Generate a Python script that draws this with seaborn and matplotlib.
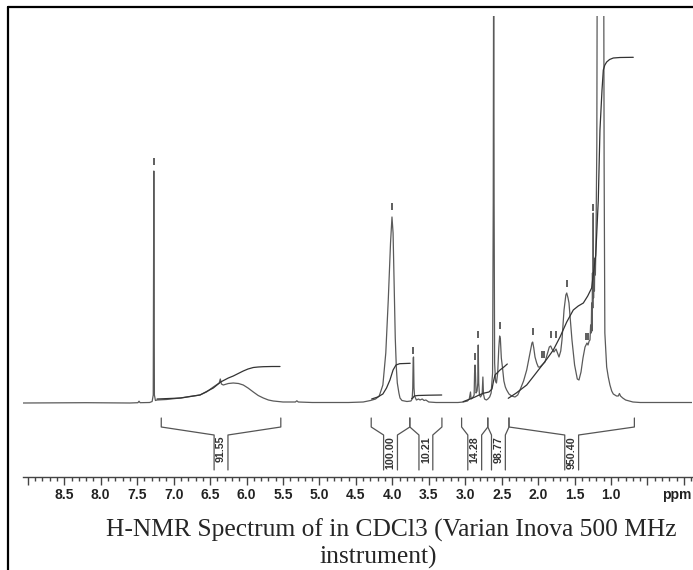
import matplotlib
matplotlib.use("Agg")
import numpy as np
import pandas as pd
import seaborn as sns
import matplotlib.pyplot as plt
from matplotlib.lines import Line2D
from matplotlib.ticker import MultipleLocator

# spectrum trace: chemical shift (ppm) and height (arbitrary units)
spec_ppm = [9.07, 8.20, 7.60, 7.49, 7.475, 7.46, 7.33, 7.295, 7.280, 7.272, 7.264, 7.25, 7.228,
            7.10, 6.91, 6.78, 6.639, 6.55, 6.456, 6.375, 6.360, 6.345, 6.319, 6.25, 6.182, 6.11,
            6.045, 5.98, 5.907, 5.84, 5.770, 5.70, 5.633, 5.50, 5.33, 5.31, 5.29, 5.10, 4.60,
            4.40, 4.30, 4.23, 4.18, 4.13, 4.09, 4.056, 4.025, 4.005, 3.990, 3.975, 3.960, 3.945,
            3.932, 3.910, 3.895, 3.868, 3.80, 3.745, 3.728, 3.720, 3.714, 3.709, 3.703, 3.695,
            3.683, 3.670, 3.64, 3.62, 3.59, 3.565, 3.54, 3.50, 3.40, 3.10, 3.03, 2.97, 2.945,
            2.935, 2.928, 2.920, 2.900, 2.878, 2.872, 2.866, 2.860, 2.852, 2.838, 2.828, 2.822,
            2.815, 2.805, 2.790, 2.768, 2.758, 2.750, 2.735, 2.71, 2.69, 2.665, 2.645, 2.625,
            2.616, 2.610, 2.604, 2.597, 2.585, 2.572, 2.555, 2.540, 2.528, 2.518, 2.505, 2.490,
            2.470, 2.450, 2.432, 2.40, 2.363, 2.318, 2.28, 2.249, 2.20, 2.157, 2.112, 2.085,
            2.075, 2.060, 2.043, 2.020, 1.998, 1.975, 1.947, 1.906, 1.878, 1.847, 1.828, 1.81,
            1.783, 1.765, 1.755, 1.735, 1.714, 1.690, 1.673, 1.645, 1.620, 1.608, 1.590, 1.577,
            1.555, 1.536, 1.500, 1.463, 1.440, 1.412, 1.385, 1.357, 1.330, 1.316, 1.300, 1.289,
            1.280, 1.272, 1.266, 1.260, 1.255, 1.250, 1.245, 1.240, 1.235, 1.228, 1.222, 1.215,
            1.207, 1.195, 1.185, 1.105, 1.095, 1.085, 1.060, 1.038, 1.015, 0.991, 0.969, 0.946,
            0.925, 0.900, 0.885, 0.870, 0.840, 0.80, 0.75, 0.70, 0.60, -0.11]
spec_int = [0, 0.3, 0, 0.3, 1.8, 0.3, 0.5, 1.5, 8, 232, 8, 2.5, 3,
            3.5, 5, 6.5, 8, 11, 16, 20, 24, 19, 18, 19.5, 20, 19.5,
            18, 15, 11, 7.5, 5, 3, 2, 1, 1, 2.2, 1, 0.5, 0.5,
            1, 2.5, 4, 7, 18, 50, 103, 160, 186, 170, 120, 65, 35,
            20, 10, 5, 2.5, 1.5, 2, 4, 15, 45, 46, 15, 7,
            5, 3, 4, 3, 4, 2.5, 3, 1, 0.5, 0.5, 1, 2, 4,
            8, 11, 4, 5, 8, 30, 38, 30, 10, 12, 20, 58,
            20, 8, 6, 9, 26, 9, 4, 3, 4, 6, 10, 30,
            200, 480, 200, 40, 22, 20, 30, 55, 67, 64, 45, 36,
            22, 16, 13, 9, 7, 6, 8, 13, 22, 33, 50, 60,
            61, 55, 46, 40, 36, 36, 38, 41, 48, 56, 57, 54,
            51, 53, 54, 50, 46, 52, 63, 93, 108, 110, 105, 100,
            80, 63, 38, 24, 23, 31, 45, 56, 60, 58, 62, 63,
            78, 70, 100, 72, 130, 95, 190, 105, 140, 112, 145, 128,
            160, 260, 600, 600, 240, 70, 36, 26, 18, 12, 9, 8,
            7, 7, 9.5, 7, 5, 3, 2, 1, 0.5, 0.5]

# integral curves
int_a_ppm = [7.228, 6.90, 6.639, 6.456, 6.355, 6.25, 6.182, 6.10, 6.045, 5.98, 5.907, 5.84, 5.77, 5.65, 5.541]
int_a_h = [4, 5, 8, 15, 21, 25, 27, 30, 32, 34, 35.5, 36, 36.3, 36.5, 36.5]
int_b_ppm = [4.284, 4.20, 4.13, 4.08, 4.033, 3.99, 3.95, 3.90, 3.755]
int_b_h = [4, 6, 9, 15, 23, 33, 38, 39.3, 39.7]
int_c_ppm = [3.735, 3.718, 3.70, 3.65, 3.50, 3.323]
int_c_h = [4.5, 5, 7, 7.5, 7.8, 8]
int_d_ppm = [3.03, 2.935, 2.866, 2.81, 2.753, 2.675, 2.633, 2.612, 2.592, 2.55, 2.523, 2.47, 2.423]
int_d_h = [1.3, 4, 6, 8, 9.7, 11, 14, 22, 28, 31, 33, 36, 39]
int_e_ppm = [2.41, 2.30, 2.157, 2.06, 1.975, 1.88, 1.792, 1.70, 1.608, 1.518, 1.45, 1.38, 1.32,
             1.266, 1.248, 1.21, 1.175, 1.152, 1.124, 1.106, 1.085, 1.06, 1.02, 0.969, 0.877, 0.695]
int_e_h = [4.7, 10, 18, 27, 35, 44, 53, 66, 81, 93, 97, 100, 107,
           115, 126, 148, 203, 273, 313, 333, 338, 341, 343.5, 345, 345.5, 345.7]

# peak-pick markers (position, height of the mark's foot)
mark_ppm = [7.272, 4.005, 3.711, 2.866, 2.822, 2.528, 2.075, 1.950, 1.915, 1.824, 1.760, 1.608, 1.343, 1.315, 1.245]
mark_h = [238, 193, 49, 43, 65, 74, 68, 45, 45, 65, 65, 116, 63, 63, 192]

# integration regions
reg_left = [7.17, 4.29, 3.76, 3.05, 2.69, 2.40]
reg_right = [5.53, 3.76, 3.32, 2.69, 2.40, 0.68]
reg_label = ["91.55", "100.00", "10.21", "14.28", "98.77", "950.40"]

tick_pos = [9.0, 8.5, 8.0, 7.5, 7.0, 6.5, 6.0, 5.5, 5.0, 4.5, 4.0, 3.5, 3.0, 2.5, 2.0, 1.5, 1.0, 0.5, 0.0]
tick_lab = ["", "8.5", "8.0", "7.5", "7.0", "6.5", "6.0", "5.5", "5.0", "4.5", "4.0", "3.5",
            "3.0", "2.5", "2.0", "1.5", "1.0", "", ""]

sns.set_style("white")
plt.rcParams['font.family'] = ['Liberation Sans', 'DejaVu Sans']

fig = plt.figure(figsize=(6.93, 5.70), dpi=100)
ax = fig.add_axes([23 / 693, 93 / 570, 669 / 693, 461 / 570])

spec = pd.DataFrame({'ppm': spec_ppm, 'h': spec_int})
sns.lineplot(data=spec, x='ppm', y='h', sort=False, estimator=None,
             color='#5a5a5a', lw=0.9, ax=ax)

integ = pd.concat([
    pd.DataFrame({'ppm': p, 'h': h, 'seg': i})
    for i, (p, h) in enumerate([(int_a_ppm, int_a_h), (int_b_ppm, int_b_h), (int_c_ppm, int_c_h),
                                (int_d_ppm, int_d_h), (int_e_ppm, int_e_h)])
])
sns.lineplot(data=integ, x='ppm', y='h', units='seg', estimator=None, sort=False,
             color='#333333', lw=0.9, ax=ax)

ax.vlines(mark_ppm, mark_h, [m + 7 for m in mark_h], color='#333333', lw=1.1)

# integral brackets under the baseline
for l, r, lab in zip(reg_left, reg_right, reg_label):
    mid = (l + r) / 2
    ax.plot([l, l, mid + 0.095, mid + 0.095], [-15, -24, -32, -67], color='#555555', lw=0.9, clip_on=False)
    ax.plot([r, r, mid - 0.095, mid - 0.095], [-15, -24, -32, -67], color='#555555', lw=0.9, clip_on=False)
    ax.text(mid, -33, lab, rotation=90, ha='center', va='top', fontsize=7.7,
            fontweight='bold', color='#333333')

ax.set_xlim(9.0665, -0.1105)
ax.set_ylim(-74, 387)
ax.set_xticks(tick_pos)
ax.set_xticklabels(tick_lab, fontweight='bold')
ax.xaxis.set_minor_locator(MultipleLocator(0.1))
ax.tick_params(axis='x', which='both', bottom=True, direction='out', color='#444444', width=1)
ax.tick_params(axis='x', which='major', length=5.8, pad=2.3, labelsize=10, labelcolor='#222222')
ax.tick_params(axis='x', which='minor', length=3.2)
ax.set_yticks([])
ax.set_xlabel('')
ax.set_ylabel('')
sns.despine(ax=ax, left=True)
ax.spines['bottom'].set_color('#444444')
ax.spines['bottom'].set_linewidth(1)
ax.text(0.1, -92, 'ppm', ha='center', va='center', fontsize=10, fontweight='bold', color='#222222')

# page frame
fig.add_artist(Line2D([8 / 693, 1], [1 - 7 / 570] * 2, transform=fig.transFigure, color='black', lw=1.6))
fig.add_artist(Line2D([8 / 693] * 2, [0, 1 - 7 / 570], transform=fig.transFigure, color='black', lw=1.6))

fig.text(391 / 693, 33.5 / 570, "H-NMR Spectrum of in CDCl3 (Varian Inova 500 MHz",
         ha='center', va='baseline', family='Liberation Serif', fontsize=18.4)
fig.text(378 / 693, 6 / 570, "instrument)", ha='center', va='baseline',
         family='Liberation Serif', fontsize=18.4)

fig.savefig('out.png', dpi=100)
